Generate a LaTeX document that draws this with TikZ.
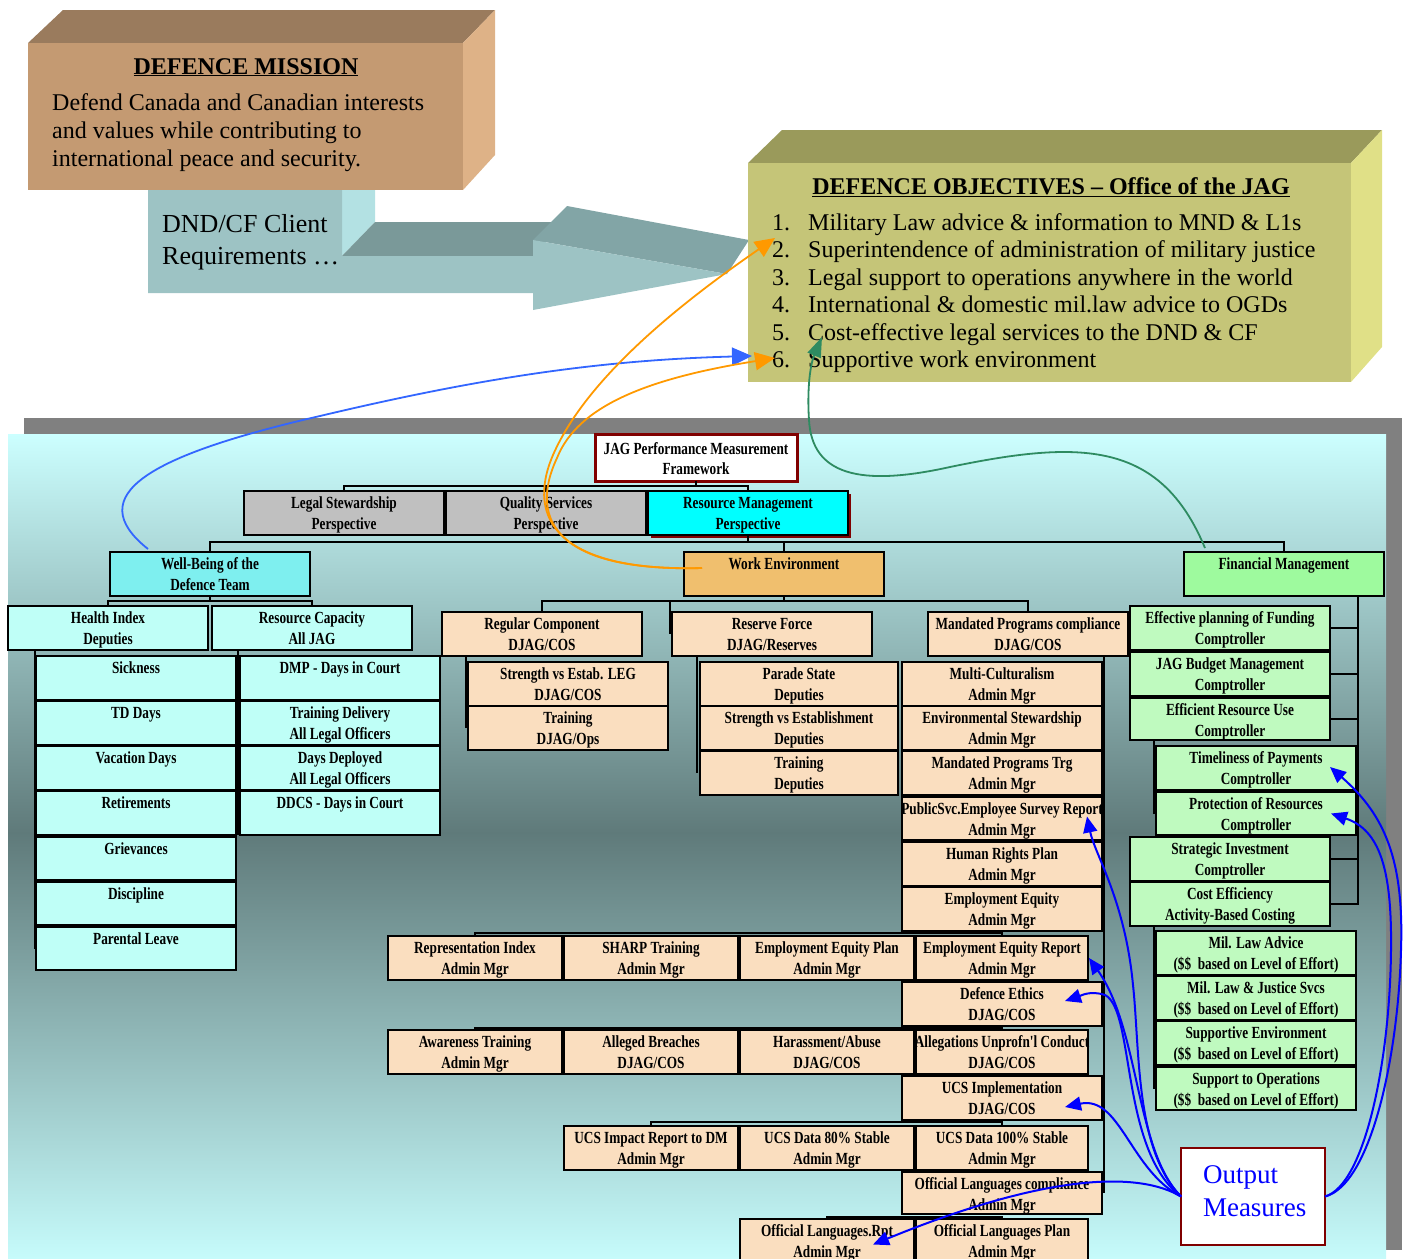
\documentclass[tikz,border=0pt]{standalone}
\usepackage{fontspec}
\setmainfont{Liberation Serif}
\newfontfamily\orgfont[FakeStretch=0.78]{Liberation Serif}
\usetikzlibrary{arrows.meta,calc}

\definecolor{mFront}{HTML}{C49A72}
\definecolor{mTop}{HTML}{9A7B5D}
\definecolor{mSide}{HTML}{DEB287}
\definecolor{oFront}{HTML}{C5C578}
\definecolor{oTop}{HTML}{9A9A5B}
\definecolor{oSide}{HTML}{E0E087}
\definecolor{aFront}{HTML}{9DC3C4}
\definecolor{aTop}{HTML}{7A9999}
\definecolor{aHead}{HTML}{82A5A6}
\definecolor{aSide}{HTML}{B3E1E3}
\definecolor{bgTop}{HTML}{CCFFFF}
\definecolor{bgMid}{HTML}{5F7A7A}
\definecolor{bgBot}{HTML}{C6FBFB}
\definecolor{shGray}{HTML}{808080}
\definecolor{cGray}{HTML}{C0C0C0}
\definecolor{cCyan}{HTML}{00FFFF}
\definecolor{cDRed}{HTML}{800000}
\definecolor{cWB}{HTML}{7EEFEF}
\definecolor{cLC}{HTML}{BFFFF7}
\definecolor{cWE}{HTML}{F0BF6E}
\definecolor{cPeach}{HTML}{FADEBF}
\definecolor{cFM}{HTML}{9EFA9E}
\definecolor{cLG}{HTML}{BFFABF}
\definecolor{cOrange}{HTML}{FF9900}
\definecolor{cLBlue}{HTML}{3366FF}
\definecolor{cGreen}{HTML}{2E8B61}
\definecolor{cBlue}{HTML}{0000FF}

% style, name, x1, y1, x2, y2, text
\newcommand\orgbox[7]{\node[#1] (#2) at (#3,#4) {\parbox[t][\dimexpr #6pt-#4pt\relax][t]{\dimexpr #5pt-#3pt\relax}{\centering\rule{0pt}{17pt}#7}};}
\newcommand\wide[1]{\makebox[\linewidth]{#1}}

\begin{document}
\begin{tikzpicture}[x=1pt,y=-1pt,
  conn/.style={draw=black,line width=2.5pt},
  obase/.style={draw=black,line width=2.5pt,anchor=north west,inner sep=0pt,outer sep=0pt,font=\orgfont\bfseries\fontsize{17}{21}\selectfont},
  sGray/.style={obase,fill=cGray},
  sCyan/.style={obase,fill=cCyan},
  sWB/.style={obase,fill=cWB},
  sLC/.style={obase,fill=cLC},
  sWE/.style={obase,fill=cWE},
  sPeach/.style={obase,fill=cPeach},
  sFM/.style={obase,fill=cFM},
  sLG/.style={obase,fill=cLG},
  sJag/.style={obase,fill=white,draw=cDRed,line width=3pt},
  barrow/.style={cBlue,line width=2pt,-{Triangle[length=16pt,width=14pt]}},
  txt/.style={inner sep=0pt,anchor=base west},
  bigtxt/.style={txt,font=\fontsize{24}{28}\selectfont}
]
\useasboundingbox (0,0) rectangle (1405,1258);

% ---------- lower background ----------
\fill[shGray] (24,418) rectangle (1402,1250);
\shade[top color=bgTop,bottom color=bgMid] (8,434) rectangle (1386,833);
\shade[top color=bgMid,bottom color=bgBot] (8,832) rectangle (1386,1258);

% ---------- 3D arrow ----------
\fill[aSide] (342,190) -- (375,190) -- (375,222) -- (342,256) -- cycle;
\fill[aTop] (342,256) -- (375,222) -- (560,222) -- (533,256) -- cycle;
\fill[aHead] (533,240) -- (567,206) -- (749,240) -- (727,274) -- cycle;
\fill[aFront] (148,190) -- (342,190) -- (342,256) -- (533,256) -- (533,240) -- (727,274) -- (533,310) -- (533,293) -- (148,293) -- cycle;
\node[txt,font=\fontsize{26}{32}\selectfont] (dnd1) at (162,232) {DND/CF Client};
\node[txt,font=\fontsize{26}{32}\selectfont] (dnd2) at (162,264) {Requirements …};

% ---------- Defence mission box ----------
\fill[mTop] (28,43) -- (63,10) -- (495,10) -- (463,43) -- cycle;
\fill[mSide] (463,43) -- (495,10) -- (495,155) -- (463,190) -- cycle;
\node[fill=mFront,anchor=north west,minimum width=435pt,minimum height=147pt,inner sep=0pt,outer sep=0pt] (mission) at (28,43) {};
\node[txt,anchor=base,font=\bfseries\fontsize{24}{28}\selectfont] (mtitle) at (246,74) {\underline{DEFENCE MISSION}};
\node[bigtxt] (m1) at (52,110) {Defend Canada and Canadian interests};
\node[bigtxt] (m2) at (52,138) {and values while contributing to};
\node[bigtxt] (m3) at (52,166) {international peace and security.};

% ---------- Defence objectives box ----------
\fill[oTop] (748,163) -- (782,130) -- (1382,130) -- (1351,163) -- cycle;
\fill[oSide] (1351,163) -- (1382,130) -- (1382,347) -- (1351,382) -- cycle;
\node[fill=oFront,anchor=north west,minimum width=603pt,minimum height=219pt,inner sep=0pt,outer sep=0pt] (objbox) at (748,163) {};
\node[txt,anchor=base,font=\bfseries\fontsize{24}{28}\selectfont] (otitle) at (1051,194) {\underline{DEFENCE OBJECTIVES – Office of the JAG}};
\node[bigtxt] (n1) at (772,230) {1.};
\node[bigtxt] (n2) at (772,257.5) {2.};
\node[bigtxt] (n3) at (772,285) {3.};
\node[bigtxt] (n4) at (772,312.5) {4.};
\node[bigtxt] (n5) at (772,340) {5.};
\node[bigtxt] (n6) at (772,367.5) {6.};
\node[bigtxt] (t1) at (808,230) {Military Law advice \& information to MND \& L1s};
\node[bigtxt] (t2) at (808,257.5) {Superintendence of administration of military justice};
\node[bigtxt] (t3) at (808,285) {Legal support to operations anywhere in the world};
\node[bigtxt] (t4) at (808,312.5) {International \& domestic mil.law advice to OGDs};
\node[bigtxt] (t5) at (808,340) {Cost-effective legal services to the DND \& CF};
\node[bigtxt] (t6) at (808,367.5) {Supportive work environment};

% ---------- org chart: top ----------
\orgbox{sJag}{jag}{595}{434}{797}{481}{\rule{0pt}{20pt}JAG Performance Measurement\\[-1pt]Framework}
\orgbox{sGray}{ls}{244}{491}{444}{535}{Legal Stewardship\\Perspective}
\orgbox{sGray}{qs}{446}{491}{646}{535}{Quality Services\\Perspective}
\fill[cDRed] (651,494) rectangle (851,538);
\orgbox{sCyan}{rm}{648}{491}{848}{535}{Resource Management\\Perspective}
\draw[conn] (ls.north) -- ++(0,-5) -| (rm.north);
\draw[conn] (qs.north) -- ++(0,-5);
\draw[conn] (jag.south) -- ++(0,5);

\orgbox{sWB}{wb}{110}{552}{310}{596}{Well-Being of the\\Defence Team}
\orgbox{sWE}{we}{684}{552}{884}{596}{Work Environment}
\orgbox{sFM}{fm}{1184}{552}{1384}{596}{Financial Management}
\draw[conn] (wb.north) -- ++(0,-10) -| (fm.north);
\draw[conn] (rm.south) -- ++(0,7);
\draw[conn] (we.north) -- ++(0,-10);

% ---------- well-being branch ----------
\orgbox{sLC}{hi}{8}{606}{208}{650}{Health Index\\Deputies}
\orgbox{sLC}{rc}{212}{606}{412}{650}{Resource Capacity\\All JAG}
\draw[conn] (hi.north) -- ++(0,-5) -| (rc.north);
\draw[conn] (wb.south) -- ++(0,5);
\orgbox{sLC}{sick}{36}{656}{236}{700}{Sickness}
\orgbox{sLC}{tdd}{36}{701}{236}{745}{TD Days}
\orgbox{sLC}{vac}{36}{746}{236}{790}{Vacation Days}
\orgbox{sLC}{ret}{36}{791}{236}{835}{Retirements}
\orgbox{sLC}{grv}{36}{837}{236}{880}{Grievances}
\orgbox{sLC}{dis}{36}{882}{236}{925}{Discipline}
\orgbox{sLC}{pl}{36}{927}{236}{970}{Parental Leave}
\draw[conn] ([xshift=-1pt]sick.west |- hi.south) -- ([xshift=-1pt]pl.west);
\orgbox{sLC}{dmp}{240}{656}{440}{700}{DMP - Days in Court}
\orgbox{sLC}{trdl}{240}{701}{440}{745}{Training Delivery\\All Legal Officers}
\orgbox{sLC}{dd}{240}{746}{440}{790}{Days Deployed\\All Legal Officers}
\orgbox{sLC}{ddcs}{240}{791}{440}{835}{DDCS - Days in Court}
\draw[conn] ([xshift=-2pt]dmp.west |- rc.south) -- ([xshift=-2pt]ddcs.south west);

% ---------- work environment branch ----------
\orgbox{sPeach}{rcomp}{442}{612}{642}{656}{Regular Component\\DJAG/COS}
\orgbox{sPeach}{rf}{672}{612}{872}{656}{Reserve Force\\DJAG/Reserves}
\orgbox{sPeach}{mand}{928}{612}{1128}{656}{Mandated Programs compliance\\DJAG/COS}
\draw[conn] (rcomp.north) -- ++(0,-11) -| (mand.north);
\draw[conn] (we.south) -- ++(0,5);
\draw[conn] ([xshift=-2pt]rf.north west) ++(0,-11) -- ([xshift=-2pt]rf.west);

\orgbox{sPeach}{sel}{468}{662}{668}{706}{Strength vs Estab. LEG\\DJAG/COS}
\orgbox{sPeach}{trdo}{468}{706}{668}{750}{Training\\DJAG/Ops}
\draw[conn] ([xshift=-2pt]sel.west |- rcomp.south) -- ([xshift=-2pt]trdo.west);

\orgbox{sPeach}{ps}{700}{662}{898}{706}{Parade State\\Deputies}
\orgbox{sPeach}{sve}{700}{706}{898}{750}{Strength vs Establishment\\Deputies}
\orgbox{sPeach}{trdp}{700}{751}{898}{795}{Training\\Deputies}
\draw[conn] ([xshift=-3pt]ps.west |- rf.south) -- ([xshift=-3pt]trdp.west);

\orgbox{sPeach}{mc}{902}{662}{1102}{706}{Multi-Culturalism\\Admin Mgr}
\orgbox{sPeach}{env}{902}{706}{1102}{750}{Environmental Stewardship\\Admin Mgr}
\orgbox{sPeach}{mpt}{902}{751}{1102}{795}{Mandated Programs Trg\\Admin Mgr}
\orgbox{sPeach}{pse}{902}{797}{1102}{840}{\wide{PublicSvc.Employee Survey Report}\\Admin Mgr}
\orgbox{sPeach}{hr}{902}{842}{1102}{886}{Human Rights Plan\\Admin Mgr}
\orgbox{sPeach}{ee}{902}{887}{1102}{931}{Employment Equity\\Admin Mgr}
\orgbox{sPeach}{de}{902}{982}{1102}{1026}{Defence Ethics\\DJAG/COS}
\orgbox{sPeach}{ucs}{902}{1076}{1102}{1120}{UCS Implementation\\DJAG/COS}
\orgbox{sPeach}{olc}{902}{1172}{1102}{1214}{Official Languages compliance\\Admin Mgr}
\draw[conn] ([xshift=2pt]mc.east |- mand.south) -- ([xshift=2pt]olc.east);

\orgbox{sPeach}{ri}{388}{936}{562}{980}{Representation Index\\Admin Mgr}
\orgbox{sPeach}{sharp}{564}{936}{738}{980}{SHARP Training\\Admin Mgr}
\orgbox{sPeach}{eep}{740}{936}{914}{980}{Employment Equity Plan\\Admin Mgr}
\orgbox{sPeach}{eer}{916}{936}{1088}{980}{Employment Equity Report\\Admin Mgr}
\draw[conn] (ri.north) -- ++(0,-3) -| (eer.north);
\draw[conn] (ee.south) -- (eer.north);

\orgbox{sPeach}{aw}{388}{1030}{562}{1074}{Awareness Training\\Admin Mgr}
\orgbox{sPeach}{ab}{564}{1030}{738}{1074}{Alleged Breaches\\DJAG/COS}
\orgbox{sPeach}{ha}{740}{1030}{914}{1074}{Harassment/Abuse\\DJAG/COS}
\orgbox{sPeach}{auc}{916}{1030}{1088}{1074}{\wide{Allegations Unprofn'l Conduct}\\DJAG/COS}
\draw[conn] (aw.north) -- ++(0,-2) -| (auc.north);

\orgbox{sPeach}{uir}{564}{1126}{738}{1170}{UCS Impact Report to DM\\Admin Mgr}
\orgbox{sPeach}{u80}{740}{1126}{914}{1170}{UCS Data 80\% Stable\\Admin Mgr}
\orgbox{sPeach}{u100}{916}{1126}{1088}{1170}{UCS Data 100\% Stable\\Admin Mgr}
\draw[conn] (uir.north) -- ++(0,-4) -| (u100.north);

\orgbox{sPeach}{olr}{740}{1219}{914}{1264}{Official Languages.Rpt\\Admin Mgr}
\orgbox{sPeach}{olp}{916}{1219}{1088}{1264}{Official Languages Plan\\Admin Mgr}
\draw[conn] (olr.north) -- ++(0,-2) -| (olp.north);

% ---------- financial branch ----------
\orgbox{sLG}{epf}{1130}{606}{1330}{650}{Effective planning of Funding\\Comptroller}
\orgbox{sLG}{jbm}{1130}{652}{1330}{696}{JAG Budget Management\\Comptroller}
\orgbox{sLG}{eru}{1130}{698}{1330}{740}{Efficient Resource Use\\Comptroller}
\orgbox{sLG}{tp}{1156}{746}{1356}{790}{Timeliness of Payments\\Comptroller}
\orgbox{sLG}{pr}{1156}{792}{1356}{835}{Protection of Resources\\Comptroller}
\orgbox{sLG}{si}{1130}{837}{1330}{881}{Strategic Investment\\Comptroller}
\orgbox{sLG}{ce}{1130}{882}{1330}{926}{Cost Efficiency\\Activity-Based Costing}
\orgbox{sLG}{mla}{1156}{931}{1356}{975}{Mil. Law Advice\\(\$\$~ based on Level of Effort)}
\orgbox{sLG}{mlj}{1156}{976}{1356}{1020}{Mil. Law \& Justice Svcs\\(\$\$~ based on Level of Effort)}
\orgbox{sLG}{se}{1156}{1021}{1356}{1065}{Supportive Environment\\(\$\$~ based on Level of Effort)}
\orgbox{sLG}{sto}{1156}{1067}{1356}{1110}{Support to Operations\\(\$\$~ based on Level of Effort)}
\coordinate (fbus) at ($(fm.south east)+(-26,0)$);
\draw[conn] (fbus) |- (ce.east);
\foreach \n in {epf,jbm,eru,si} \draw[conn] (\n.east) -- (\n.east -| fbus);
\draw[conn] ([xshift=-2pt]tp.west |- eru.south) -- ([xshift=-2pt]pr.west);
\draw[conn] ([xshift=-2pt]mla.west |- ce.south) -- ([xshift=-2pt]sto.west);

% ---------- output measures ----------
\node[draw=cDRed,fill=white,line width=2pt,anchor=north west,inner sep=0pt,outer sep=0pt,
      text=cBlue,font=\fontsize{27}{33}\selectfont] (om) at (1181,1148)
  {\parbox[t][97pt][t]{144pt}{\rule{0pt}{35pt}\hspace*{22pt}Output\\\hspace*{22pt}Measures}};

\draw[barrow] (om.west) .. controls (1135,1150) and (1140,1050) .. (1133,985) .. controls (1125,900) and (1095,855) .. ($(pse.east)+(-15,-2)$);
\draw[barrow] (om.west) .. controls (1135,1150) and (1140,1030) .. ($(eer.east)+(1,0)$);
\draw[barrow] (om.west) .. controls (1120,1150) and (1135,1010) .. (1105,995) .. controls (1090,990) and (1080,996) .. ($(de.east)+(-37,-3)$);
\draw[barrow] (om.west) .. controls (1130,1170) and (1120,1095) .. ($(ucs.east)+(-37,9)$);
\draw[barrow] (om.west) .. controls (1140,1172) and (1050,1172) .. ($(olr.east)+(-41,3)$);
\draw[barrow] (om.east) .. controls (1370,1185) and (1398,1060) .. (1401,950) .. controls (1404,860) and (1385,815) .. ($(tp.east)+(-26,-1)$);
\draw[barrow] (om.east) .. controls (1365,1185) and (1390,1060) .. (1391,950) .. controls (1392,870) and (1380,830) .. ($(pr.east)+(-25,0)$);

% ---------- curves to objectives ----------
\draw[cLBlue,line width=1.8pt,-{Triangle[length=20pt,width=18pt]}] ($(wb.north west)+(38,-3)$) .. controls (80,495) and (150,455) .. (320,416) .. controls (480,378) and (600,360) .. ($(objbox.south west)+(4,-26)$);
\draw[cOrange,line width=1.8pt,-{Triangle[length=20pt,width=18pt]}] ($(we.west)+(18,-6)$) .. controls (560,572) and (525,520) .. (553,455) .. controls (590,370) and (700,290) .. ($(objbox.south west)+(27,-144)$);
\draw[cOrange,line width=1.8pt,-{Triangle[length=20pt,width=18pt]}] ($(we.west)+(18,-6)$) .. controls (560,572) and (527,522) .. (557,458) .. controls (578,405) and (650,378) .. ($(objbox.south west)+(27,-24)$);
\draw[cGreen,line width=1.8pt,-{Triangle[length=20pt,width=14pt]}] ($(fm.north west)+(21,-4)$) .. controls (1160,440) and (1080,440) .. (950,467) .. controls (860,487) and (812,475) .. (809,420) .. controls (807,390) and (810,365) .. ($(objbox.south west)+(74,-45)$);
\end{tikzpicture}
\end{document}
